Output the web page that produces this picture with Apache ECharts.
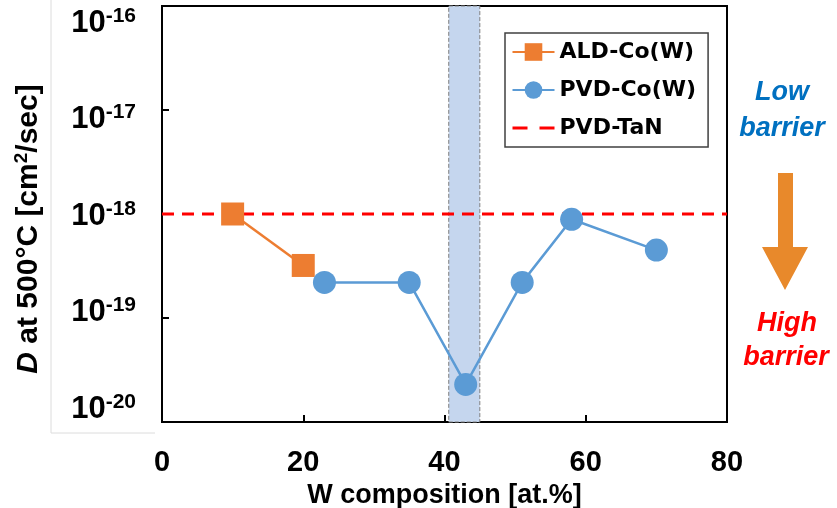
<!DOCTYPE html>
<html><head><meta charset="utf-8">
<script src="https://cdn.jsdelivr.net/npm/echarts@6/dist/echarts.min.js"></script>
<style>html,body{margin:0;padding:0;background:#fff}#c{width:837px;height:508px}</style>
</head><body><div id="c"></div>
<script>
// Data
const aldX = [10, 20];
const aldD = [1.0e-18, 3.2e-19];
const pvdX = [23, 35, 43, 51, 58, 70];
const pvdD = [2.2e-19, 2.2e-19, 2.3e-20, 2.2e-19, 8.9e-19, 4.5e-19];
const tanX = [0, 80];
const tanD = [1e-18, 1e-18];
const bandRange = [40.6, 45];
const xTicks = [0, 20, 40, 60, 80];
const yTickExps = [-20, -19, -18, -17, -16];
// the pasted tick-label strip in the original is slightly compressed relative to the ticks
const labelExpRange = [-20.145, -15.834];
const seriesNames = ['ALD-Co(W)', 'PVD-Co(W)', 'PVD-TaN'];

const chart = echarts.init(document.getElementById('c'));
const F = 'Liberation Sans, Arial, sans-serif';
const zip = (a, b) => a.map((v, i) => [v, b[i]]);

chart.setOption({
  animation: false,
  grid: { left: 162, right: 110, top: 6, bottom: 86, show: true, borderColor: '#000', borderWidth: 2, backgroundColor: 'transparent', containLabel: false, outerBoundsMode: 'none' },
  xAxis: {
    type: 'value', min: xTicks[0], max: xTicks[xTicks.length - 1], interval: 20,
    axisLine: { show: false },
    axisTick: { inside: true, length: 7, lineStyle: { color: '#000', width: 2 } },
    splitLine: { show: false },
    axisLabel: { margin: 26, color: '#000', fontFamily: F, fontWeight: 'bold', fontSize: 29 },
    name: 'W composition [at.%]', nameLocation: 'middle', nameGap: 56,
    nameTextStyle: { color: '#000', fontFamily: F, fontWeight: 'bold', fontSize: 27 }
  },
  yAxis: [{
    type: 'log', logBase: 10, min: Math.pow(10, yTickExps[0]), max: Math.pow(10, yTickExps[yTickExps.length - 1]),
    axisLine: { show: false },
    axisTick: { inside: true, length: 7, lineStyle: { color: '#000', width: 2 } },
    splitLine: { show: false },
    axisLabel: { show: false }
  }, {
    type: 'value', position: 'left', min: labelExpRange[0], max: labelExpRange[1],
    axisLine: { show: false }, axisTick: { show: false }, splitLine: { show: false },
    axisLabel: {
      margin: 26,
      customValues: yTickExps,
      formatter: v => '{b|10}{s|' + Math.round(v) + '}',
      rich: {
        b: { fontFamily: F, fontWeight: 'bold', fontSize: 31, color: '#000', verticalAlign: 'bottom' },
        s: { fontFamily: F, fontWeight: 'bold', fontSize: 21, color: '#000', verticalAlign: 'bottom', padding: [0, 0, 12, 0] }
      }
    }
  }],
  legend: {
    left: 505, top: 33, orient: 'vertical',
    data: [seriesNames[0], seriesNames[1], { name: seriesNames[2], itemStyle: { opacity: 0 }, lineStyle: { type: [15, 12], width: 3 } }],
    backgroundColor: '#fff', borderColor: '#404040', borderWidth: 1.5,
    padding: [8, 12, 8, 6], itemGap: 16, itemWidth: 42, itemHeight: 22,
    textStyle: { fontFamily: 'DejaVu Sans, sans-serif', fontWeight: 'bold', fontSize: 22, color: '#000' }
  },
  series: [
    {
      name: 'band', type: 'line', data: [], z: 1, silent: true,
      markArea: {
        silent: true,
        itemStyle: { color: '#C5D6EE', borderColor: '#7F7F7F', borderWidth: 1, borderType: 'dashed' },
        data: [[{ xAxis: bandRange[0] }, { xAxis: bandRange[1] }]]
      }
    },
    {
      name: seriesNames[2], type: 'line', data: zip(tanX, tanD), z: 2,
      symbol: 'none', showSymbol: false,
      itemStyle: { color: '#FF0000' },
      lineStyle: { color: '#FF0000', width: 3, type: [12, 8] }
    },
    {
      name: seriesNames[0], type: 'line', data: zip(aldX, aldD), z: 4,
      symbol: 'rect', symbolSize: 23,
      itemStyle: { color: '#ED7D31' }, lineStyle: { color: '#ED7D31', width: 2.5 }
    },
    {
      name: seriesNames[1], type: 'line', data: zip(pvdX, pvdD), z: 4,
      symbol: 'circle', symbolSize: 23,
      itemStyle: { color: '#5B9BD5' }, lineStyle: { color: '#5B9BD5', width: 2.5 }
    }
  ],
  graphic: [
    { type: 'polyline', silent: true, shape: { points: [[51, 0], [51, 433], [155, 433]] }, style: { stroke: '#dcdcdc', lineWidth: 1, fill: null } },
    {
      type: 'text', x: 28, y: 229, rotation: Math.PI / 2,
      style: {
        text: '{i|D}{n| at 500°C [cm}{s|2}{n|/sec]}', align: 'center', verticalAlign: 'middle',
        rich: {
          i: { fontFamily: F, fontWeight: 'bold', fontStyle: 'italic', fontSize: 30, fill: '#000', verticalAlign: 'bottom' },
          n: { fontFamily: F, fontWeight: 'bold', fontSize: 30, fill: '#000', verticalAlign: 'bottom' },
          s: { fontFamily: F, fontWeight: 'bold', fontSize: 19, fill: '#000', verticalAlign: 'bottom', padding: [0, 0, 12, 0] }
        }
      }
    },
    { type: 'text', x: 782, y: 93, style: { text: 'Low', fill: '#0070C0', font: 'italic bold 27px Liberation Sans, Arial', textAlign: 'center', textVerticalAlign: 'middle' } },
    { type: 'text', x: 782, y: 129, style: { text: 'barrier', fill: '#0070C0', font: 'italic bold 27px Liberation Sans, Arial', textAlign: 'center', textVerticalAlign: 'middle' } },
    { type: 'polygon', silent: true, shape: { points: [[778, 173], [793, 173], [793, 247], [808, 247], [785, 290], [762, 247], [778, 247]] }, style: { fill: '#E8892B' } },
    { type: 'text', x: 787, y: 324, style: { text: 'High', fill: '#FF0000', font: 'italic bold 27px Liberation Sans, Arial', textAlign: 'center', textVerticalAlign: 'middle' } },
    { type: 'text', x: 786, y: 358, style: { text: 'barrier', fill: '#FF0000', font: 'italic bold 27px Liberation Sans, Arial', textAlign: 'center', textVerticalAlign: 'middle' } }
  ]
});
</script></body></html>
